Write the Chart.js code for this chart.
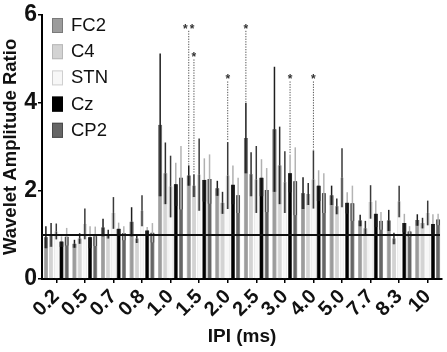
<!DOCTYPE html>
<html>
<head>
<meta charset="utf-8">
<script src="https://cdn.jsdelivr.net/npm/chart.js@4.4.0/dist/chart.umd.min.js"></script>
<style>
  html, body { margin: 0; padding: 0; background: #fff; }
  #wrap { width: 447px; height: 352px; }
</style>
</head>
<body>
<div id="wrap"><canvas id="ipi_chart" width="447" height="352"></canvas></div>
<script>
const categories = ['0.2', '0.5', '0.7', '0.8', '1.0', '1.5', '2.0', '2.5', '3.0', '4.0', '5.0', '7.7', '8.3', '10'];
const seriesNames = ['FC2', 'C4', 'STN', 'Cz', 'CP2'];

// mean and error (SEM)
const fc2Mean = [0.95, 0.80, 1.17, 1.30, 3.50, 2.35, 2.06, 3.20, 3.40, 1.95, 1.90, 1.33, 1.33, 1.34];
const fc2Err  = [0.25, 0.09, 0.20, 0.33, 1.62, 0.23, 0.17, 0.80, 1.42, 0.36, 0.22, 0.13, 0.24, 0.13];
const c4Mean  = [1.00, 0.92, 1.02, 0.92, 2.40, 2.12, 1.73, 2.38, 2.58, 1.93, 1.65, 1.15, 0.92, 1.27];
const c4Err   = [0.27, 0.12, 0.10, 0.10, 0.70, 0.26, 0.25, 0.50, 0.88, 0.25, 0.18, 0.17, 0.13, 0.12];
const stnMean = [1.08, 1.25, 1.50, 1.55, 2.10, 2.37, 2.35, 2.26, 2.20, 2.26, 2.30, 1.75, 1.76, 1.50];
const stnErr  = [0.18, 0.35, 0.36, 0.35, 0.70, 0.82, 0.76, 0.76, 0.70, 0.66, 0.67, 0.38, 0.36, 0.28];
const czMean  = [0.85, 0.95, 1.14, 1.10, 2.15, 2.25, 2.14, 2.30, 2.40, 2.12, 1.73, 1.48, 1.27, 1.25];
const czErr   = [0.12, 0.25, 0.14, 0.08, 0.49, 0.49, 0.44, 0.42, 0.43, 0.35, 0.24, 0.30, 0.21, 0.22];
const cp2Mean = [0.96, 0.97, 1.04, 1.05, 2.30, 2.27, 1.90, 2.02, 2.22, 1.95, 1.72, 1.32, 1.08, 1.35];
const cp2Err  = [0.20, 0.22, 0.16, 0.22, 0.72, 0.56, 0.40, 0.50, 0.77, 0.45, 0.40, 0.20, 0.12, 0.13];

const yTicks = [0, 2, 4, 6];
const baseline = 1;

// significance marks: category index, series index, text, height
const starCat    = [5, 5, 6, 7, 8, 9];
const starSeries = [0, 1, 2, 0, 3, 2];
const starText   = ['**', '*', '*', '*', '*', '*'];
const starY      = [5.75, 5.1, 4.6, 5.75, 4.6, 4.6];

const fillColors  = ['#9c9c9c', '#d3d3d3', '#f7f7f7', '#000000', '#666666'];
const edgeColors  = ['#7a7a7a', '#b8b8b8', '#cfcfcf', '#000000', '#4a4a4a'];
const bandColors  = ['#6c6c6c', '#a9a9a9', '#d9d9d9', '#262626', '#484848'];
const errColors   = ['#1e1e1e', '#2e2e2e', '#3a3a3a', '#b0b0b0', '#b4b4b4'];

const FONT = "'Liberation Sans', Arial, sans-serif";
const means = [fc2Mean, c4Mean, stnMean, czMean, cp2Mean];
const errs = [fc2Err, c4Err, stnErr, czErr, cp2Err];

const datasets = seriesNames.map((name, i) => ({
    label: name,
    data: means[i],
    err: errs[i],
    backgroundColor: fillColors[i],
    borderColor: edgeColors[i],
    borderWidth: 0.6,
    categoryPercentage: 0.91,
    barPercentage: 0.8,
}));

const errorBars = {
    id: 'errorBars',
    afterDatasetsDraw(chart) {
        const ctx = chart.ctx;
        const y = chart.scales.y;
        ctx.save();
        chart.data.datasets.forEach((ds, i) => {
            const meta = chart.getDatasetMeta(i);
            meta.data.forEach((bar, j) => {
                const m = ds.data[j], e = ds.err[j];
                const top = y.getPixelForValue(m + e);
                const low = y.getPixelForValue(m - e);
                const w = bar.width;
                ctx.fillStyle = bandColors[i];
                ctx.fillRect(bar.x - w / 2 + 0.3, bar.y, w - 0.6, low - bar.y);
                ctx.strokeStyle = errColors[i];
                ctx.lineWidth = 1.5;
                ctx.beginPath();
                ctx.moveTo(bar.x, top);
                ctx.lineTo(bar.x, bar.y);
                ctx.stroke();
                ctx.strokeStyle = i === 3 ? '#111' : errColors[i];
                ctx.beginPath();
                ctx.moveTo(bar.x, bar.y);
                ctx.lineTo(bar.x, low);
                ctx.stroke();
            });
        });
        // reference line at ratio 1
        const a = chart.chartArea;
        const yb = y.getPixelForValue(baseline);
        ctx.strokeStyle = '#111';
        ctx.lineWidth = 2;
        ctx.beginPath();
        ctx.moveTo(a.left, yb);
        ctx.lineTo(a.right - 2, yb);
        ctx.stroke();

        // stars with dotted leaders
        starCat.forEach((c, k) => {
            const s = starSeries[k];
            const bar = chart.getDatasetMeta(s).data[c];
            const ds = chart.data.datasets[s];
            const ys = y.getPixelForValue(starY[k]);
            const yTop = y.getPixelForValue(ds.data[c] + ds.err[c]);
            ctx.strokeStyle = '#555';
            ctx.lineWidth = 1;
            ctx.setLineDash([1.3, 1.3]);
            ctx.beginPath();
            ctx.moveTo(bar.x, ys + 5);
            ctx.lineTo(bar.x, yTop - 1);
            ctx.stroke();
            ctx.setLineDash([]);
            ctx.fillStyle = '#333';
            ctx.font = 'bold 12px ' + FONT;
            ctx.textAlign = 'center';
            ctx.textBaseline = 'alphabetic';
            if (starText[k] === '**') {
                ctx.fillText('*', bar.x - 3.4, ys + 7);
                ctx.fillText('*', bar.x + 3.4, ys + 7);
            } else {
                ctx.fillText('*', bar.x, ys + 7);
            }
        });

        // legend inside the plot, top left
        ctx.font = '18.5px ' + FONT;
        ctx.textAlign = 'left';
        ctx.textBaseline = 'middle';
        seriesNames.forEach((name, i) => {
            const top = 18 + i * 26.2;
            ctx.fillStyle = fillColors[i];
            ctx.fillRect(52, top, 11, 15);
            ctx.strokeStyle = edgeColors[i];
            ctx.lineWidth = 1;
            ctx.strokeRect(52.5, top + 0.5, 10, 14);
            ctx.fillStyle = '#111';
            ctx.fillText(name, 71, top + 8);
        });
        ctx.restore();
    }
};

const ctx = document.getElementById('ipi_chart').getContext('2d');
new Chart(ctx, {
    type: 'bar',
    data: { labels: categories, datasets: datasets },
    options: {
        responsive: false,
        animation: false,
        layout: { padding: { top: 0, right: 5, left: 0, bottom: 0 } },
        plugins: { legend: { display: false }, tooltip: { enabled: false } },
        scales: {
            x: {
                grid: { display: true, drawOnChartArea: false, offset: false, tickLength: 4, color: '#000', lineWidth: 1.5 },
                border: { color: '#000', width: 2 },
                ticks: { color: '#111', autoSkip: false, font: { family: FONT, size: 20, weight: 'bold' }, maxRotation: 45, minRotation: 45, padding: 2 },
                title: { display: true, text: 'IPI (ms)', color: '#111', font: { family: FONT, size: 19, weight: 'bold' }, padding: { top: 0, bottom: 4 } },
                afterFit: (s) => { s.height = 73; },
            },
            y: {
                min: 0, max: 6,
                afterBuildTicks: (s) => { s.ticks = yTicks.map(v => ({ value: v })); },
                grid: { display: true, drawOnChartArea: false, tickLength: 4, color: '#000', lineWidth: 1.5 },
                border: { color: '#000', width: 2 },
                ticks: { color: '#111', font: { family: FONT, size: 23, weight: 'bold' }, padding: 1 },
                title: { display: true, text: 'Wavelet Amplitude Ratio', color: '#111', font: { family: FONT, size: 18.5, weight: 'bold' }, padding: { top: 0, bottom: 0 } },
                afterFit: (s) => { s.width = 42; },
            }
        }
    },
    plugins: [errorBars],
});
</script>
</body>
</html>
